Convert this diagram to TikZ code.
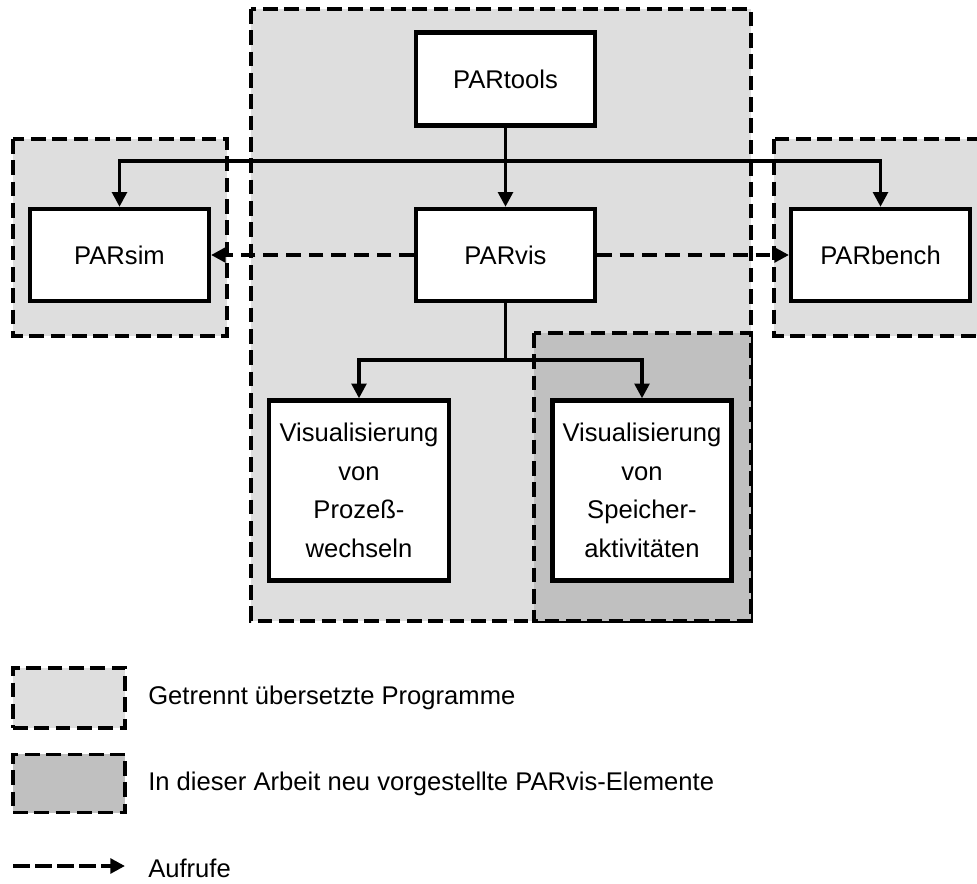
\documentclass[tikz,border=0pt]{standalone}
\usepackage{fontspec}
\setmainfont{Liberation Sans}
\usetikzlibrary{arrows.meta}
\definecolor{greylight}{HTML}{DEDEDE}
\definecolor{greydark}{HTML}{C0C0C0}
\tikzset{
  region/.style={draw=black, line width=2.3pt, dash pattern=on 11pt off 5pt},
  lightregion/.style={region, fill=greylight},
  darkregion/.style={region, fill=greydark},
  prog/.style={draw=black, fill=white, line width=3.3pt, rectangle,
    inner sep=0pt, align=center, font=\fontsize{19.2}{29}\selectfont},
  tip/.style={-{Triangle[width=11pt,length=11pt]}},
  call/.style={tip, line width=2.5pt},
  invoke/.style={tip, line width=3pt, dash pattern=on 11pt off 6pt},
  keyinvoke/.style={tip, line width=3pt, dash pattern=on 13pt off 3.5pt},
  label/.style={anchor=west, inner sep=0pt, font=\fontsize{19.2}{23}\selectfont},
}
\begin{document}
\begin{tikzpicture}[x=0.75pt, y=-0.75pt]
  \useasboundingbox (0,0) rectangle (977,884);
  \clip (0,0) rectangle (977,884);

  % separately compiled programs
  \draw[lightregion] (251,9) rectangle (751,621);
  \draw[darkregion] (534,333) rectangle (751,621);
  \draw[lightregion] (13,139) rectangle (227,336);
  \draw[lightregion] (774,139) rectangle (990,336);

  % program boxes
  \node[prog, minimum width=134pt, minimum height=70pt] (tools) at (505.5,79) {PARtools};
  \node[prog, minimum width=134pt, minimum height=69pt] (sim) at (119.5,255) {PARsim};
  \node[prog, minimum width=134pt, minimum height=69pt] (vis) at (505.5,255) {PARvis};
  \node[prog, minimum width=134pt, minimum height=69pt] (bench) at (880.5,255) {PARbench};
  \node[prog, minimum width=135pt, minimum height=135pt] (proc) at (359,490.5) {Visualisierung\\von\\Prozeß-\\wechseln};
  \node[prog, minimum width=134pt, minimum height=135pt] (mem) at (642,490.5) {Visualisierung\\von\\Speicher-\\aktivitäten};

  % calls from PARtools
  \coordinate (bus) at (505.5,161);
  \draw[call] (tools.south) -- (vis.north);
  \draw[call] (bus) -| (sim.north);
  \draw[call] (bus) -| (bench.north);

  % calls from PARvis
  \coordinate (split) at (505.5,360);
  \draw[line width=2.5pt] (vis.south) -- (split);
  \draw[call] (split) -| (proc.north);
  \draw[call] (split) -| (mem.north);

  % program invocations
  \draw[invoke] (vis.west) -- (sim.east);
  \draw[invoke] (vis.east) -- (bench.west);

  % legend
  \node[lightregion, minimum width=84pt, minimum height=45pt, inner sep=0pt] (keyA) at (69,698) {};
  \node[darkregion, minimum width=84pt, minimum height=44pt, inner sep=0pt] (keyB) at (69,783.5) {};
  \node[label] (textA) at (148,698) {Getrennt übersetzte Programme};
  \node[label] (textB) at (148,783.5) {In dieser Arbeit neu vorgestellte PARvis-Elemente};
  \coordinate (keyCa) at (13,866);
  \coordinate (keyCb) at (125,866);
  \draw[keyinvoke] (keyCa) -- (keyCb);
  \node[label] (textC) at (148,868) {Aufrufe};
\end{tikzpicture}
\end{document}
